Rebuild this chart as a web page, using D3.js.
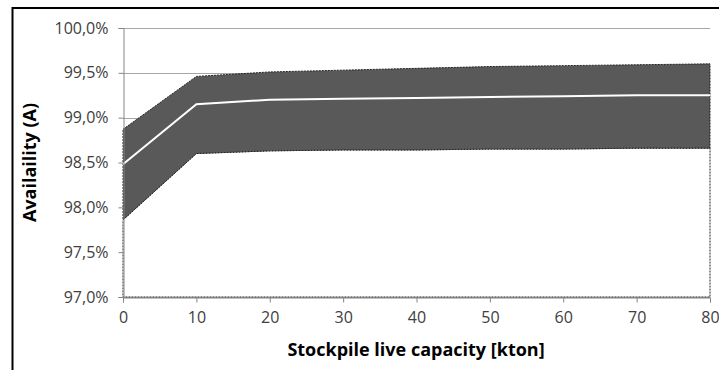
<!DOCTYPE html>
<html>
<head>
<meta charset="utf-8">
<script src="https://cdn.jsdelivr.net/npm/d3@7"></script>
<style>
  body { margin: 0; background: #fff; overflow: hidden; }
  svg { display: block; font-family: 'Open Sans', sans-serif; }
</style>
</head>
<body>
<svg id="canvas"></svg>
<script>
let capacity = [0, 10, 20, 30, 40, 50, 60, 70, 80];
let upperValues = [98.87, 99.46, 99.51, 99.53, 99.55, 99.57, 99.58, 99.59, 99.60];
let meanValues = [98.48, 99.15, 99.20, 99.21, 99.22, 99.23, 99.24, 99.25, 99.25];
let lowerValues = [97.86, 98.60, 98.63, 98.64, 98.64, 98.65, 98.65, 98.66, 98.66];
let yTicks = [97.0, 97.5, 98.0, 98.5, 99.0, 99.5, 100.0];
let xTicks = [0, 10, 20, 30, 40, 50, 60, 70, 80];

let width = 719;
let height = 370;
let plotLeft = 123, plotRight = 710, plotTop = 28, plotBottom = 297;

let canvas = d3.select('#canvas').attr('width', width).attr('height', height);

let xScale = d3.scaleLinear().domain([0, 80]).range([plotLeft, plotRight]);
let yScale = d3.scaleLinear().domain([97, 100]).range([plotBottom, plotTop]);

// outer frame (right and bottom edges fall outside the picture)
canvas.append('path')
  .attr('d', `M12.5,${height}V8H${width}`)
  .attr('fill', 'none').attr('stroke', '#000').attr('stroke-width', 2);

// gridlines
canvas.append('g')
  .selectAll('line')
  .data(yTicks)
  .join('line')
  .attr('x1', plotLeft).attr('x2', plotRight)
  .attr('y1', d => Math.round(yScale(d)) + 0.5)
  .attr('y2', d => Math.round(yScale(d)) + 0.5)
  .attr('stroke', '#a6a6a6').attr('stroke-width', 1);

let pts = capacity.map((c, i) => ({ x: c, lo: lowerValues[i], hi: upperValues[i], m: meanValues[i] }));

// white area below the band (hides gridlines)
canvas.append('path')
  .datum(pts)
  .attr('d', d3.area().x(d => xScale(d.x)).y0(yScale(97)).y1(d => yScale(d.lo)))
  .attr('fill', '#fff')
  .attr('stroke', '#222').attr('stroke-width', 1).attr('stroke-dasharray', '2,1');

// band
canvas.append('path')
  .datum(pts)
  .attr('d', d3.area().x(d => xScale(d.x)).y0(d => yScale(d.lo)).y1(d => yScale(d.hi)))
  .attr('fill', '#595959')
  .attr('stroke', '#222').attr('stroke-width', 1).attr('stroke-dasharray', '2,1');

// mean line
canvas.append('path')
  .datum(pts)
  .attr('d', d3.line().x(d => xScale(d.x)).y(d => yScale(d.m)))
  .attr('fill', 'none').attr('stroke', '#fff').attr('stroke-width', 2);

// axes
let yAxis = d3.axisLeft(yScale).tickValues(yTicks).tickSize(5).tickPadding(10)
  .tickFormat(d => d3.format('.1f')(d).replace('.', ',') + '%');
let gy = canvas.append('g').attr('transform', `translate(${plotLeft + 0.5}, 0)`).call(yAxis);

let xAxis = d3.axisBottom(xScale).tickValues(xTicks).tickSize(5).tickPadding(9);
let gx = canvas.append('g').attr('transform', `translate(0, ${plotBottom + 0.5})`).call(xAxis);

[gy, gx].forEach(g => {
  g.attr('font-size', 16).attr('font-family', "'Open Sans', sans-serif");
  g.select('.domain').attr('stroke', '#868686');
  g.selectAll('.tick line').attr('stroke', '#868686');
  g.selectAll('.tick text').attr('fill', '#404040');
});

// titles
canvas.append('text')
  .attr('x', 416).attr('y', 356)
  .attr('text-anchor', 'middle')
  .style('font-size', '18px').style('font-weight', 'bold')
  .text('Stockpile live capacity [kton]');

canvas.append('text')
  .attr('transform', `translate(36, ${(plotTop + plotBottom) / 2}) rotate(-90)`)
  .attr('text-anchor', 'middle')
  .style('font-size', '18px').style('font-weight', 'bold')
  .text('Availaility (A)');
</script>
</body>
</html>
